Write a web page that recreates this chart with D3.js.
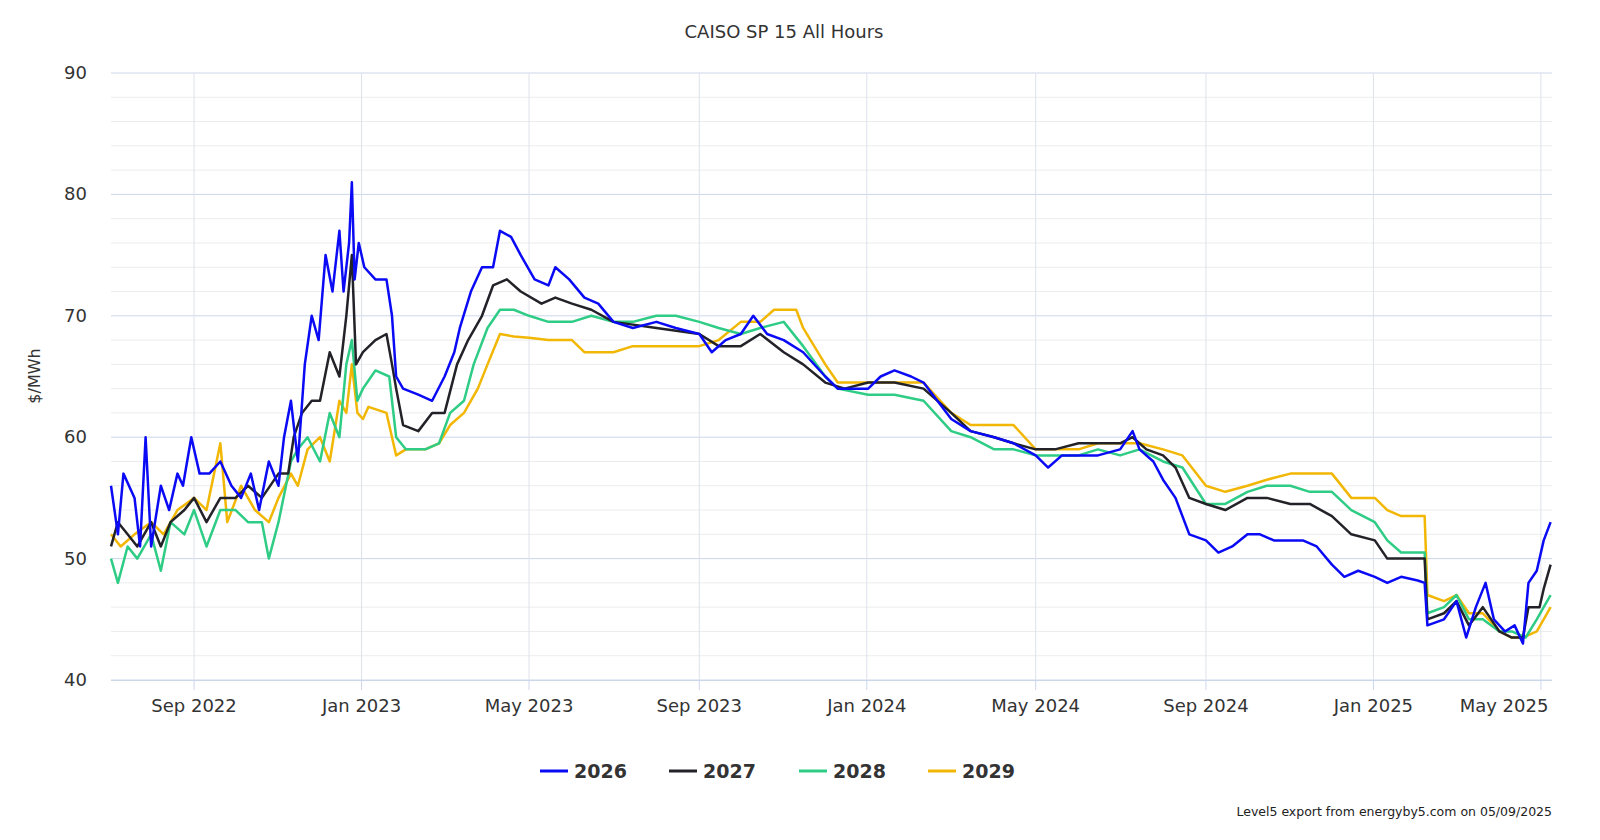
<!DOCTYPE html>
<html><head><meta charset="utf-8">
<script src="https://cdn.jsdelivr.net/npm/d3@7"></script>
<style>body{margin:0;background:#fff;font-family:"DejaVu Sans",sans-serif}</style>
</head><body><svg id="c" width="1600" height="840"></svg>
<script>
const title = "CAISO SP 15 All Hours";
const yLabel = "$/MWh";
const xTickDates = ["2022-09-01","2022-12-31","2023-05-01","2023-09-01","2023-12-31","2024-05-01","2024-09-01","2024-12-31","2025-05-01"];
const xTickLabels = ["Sep 2022","Jan 2023","May 2023","Sep 2023","Jan 2024","May 2024","Sep 2024","Jan 2025","May 2025"];
const yTicks = [40,50,60,70,80,90];
const seriesNames = ["2026","2027","2028","2029"];
const seriesColors = ["#0a0af5","#222228","#2ecc85","#f2b705"];

const s2026 = [["2022-07-03",56],["2022-07-08",52],["2022-07-12",57],["2022-07-20",55],["2022-07-24",51],["2022-07-28",60],["2022-08-01",51],["2022-08-08",56],["2022-08-14",54],["2022-08-20",57],["2022-08-24",56],["2022-08-30",60],["2022-09-05",57],["2022-09-12",57],["2022-09-20",58],["2022-09-28",56],["2022-10-05",55],["2022-10-12",57],["2022-10-18",54],["2022-10-25",58],["2022-11-01",56],["2022-11-05",60],["2022-11-10",63],["2022-11-15",58],["2022-11-20",66],["2022-11-25",70],["2022-11-30",68],["2022-12-05",75],["2022-12-10",72],["2022-12-15",77],["2022-12-18",72],["2022-12-22",76],["2022-12-24",81],["2022-12-26",73],["2022-12-29",76],["2023-01-02",74],["2023-01-10",73],["2023-01-18",73],["2023-01-22",70],["2023-01-25",65],["2023-01-30",64],["2023-02-10",63.5],["2023-02-20",63],["2023-03-01",65],["2023-03-08",67],["2023-03-12",69],["2023-03-20",72],["2023-03-28",74],["2023-04-05",74],["2023-04-10",77],["2023-04-18",76.5],["2023-04-25",75],["2023-05-05",73],["2023-05-15",72.5],["2023-05-20",74],["2023-05-30",73],["2023-06-10",71.5],["2023-06-20",71],["2023-07-01",69.5],["2023-07-15",69],["2023-08-01",69.5],["2023-08-15",69],["2023-09-01",68.5],["2023-09-10",67],["2023-09-20",68],["2023-10-01",68.5],["2023-10-10",70],["2023-10-20",68.5],["2023-11-01",68],["2023-11-15",67],["2023-12-01",65],["2023-12-10",64],["2023-12-20",64],["2024-01-01",64],["2024-01-10",65],["2024-01-20",65.5],["2024-02-01",65],["2024-02-10",64.5],["2024-02-20",63],["2024-03-01",61.5],["2024-03-15",60.5],["2024-04-01",60],["2024-04-15",59.5],["2024-05-01",58.5],["2024-05-10",57.5],["2024-05-20",58.5],["2024-06-01",58.5],["2024-06-15",58.5],["2024-07-01",59],["2024-07-10",60.5],["2024-07-15",59],["2024-07-25",58],["2024-08-01",56.5],["2024-08-10",55],["2024-08-20",52],["2024-09-01",51.5],["2024-09-10",50.5],["2024-09-20",51],["2024-10-01",52],["2024-10-10",52],["2024-10-20",51.5],["2024-11-01",51.5],["2024-11-10",51.5],["2024-11-20",51],["2024-12-01",49.5],["2024-12-10",48.5],["2024-12-20",49],["2025-01-01",48.5],["2025-01-10",48],["2025-01-20",48.5],["2025-02-01",48.2],["2025-02-06",48],["2025-02-08",44.5],["2025-02-20",45],["2025-03-01",46.5],["2025-03-08",43.5],["2025-03-15",46],["2025-03-22",48],["2025-03-28",45],["2025-04-05",44],["2025-04-12",44.5],["2025-04-18",43],["2025-04-22",48],["2025-04-28",49],["2025-05-03",51.5],["2025-05-08",53]];
const s2027 = [["2022-07-03",51],["2022-07-08",53],["2022-07-15",52],["2022-07-22",51],["2022-08-01",53],["2022-08-08",51],["2022-08-15",53],["2022-08-25",54],["2022-09-01",55],["2022-09-10",53],["2022-09-20",55],["2022-10-01",55],["2022-10-10",56],["2022-10-20",55],["2022-11-01",57],["2022-11-08",57],["2022-11-12",60],["2022-11-18",62],["2022-11-25",63],["2022-12-01",63],["2022-12-08",67],["2022-12-15",65],["2022-12-20",70],["2022-12-24",75],["2022-12-27",66],["2023-01-01",67],["2023-01-10",68],["2023-01-18",68.5],["2023-01-22",66],["2023-01-25",64],["2023-01-30",61],["2023-02-10",60.5],["2023-02-20",62],["2023-03-01",62],["2023-03-10",66],["2023-03-18",68],["2023-03-28",70],["2023-04-05",72.5],["2023-04-15",73],["2023-04-25",72],["2023-05-10",71],["2023-05-20",71.5],["2023-06-01",71],["2023-06-15",70.5],["2023-07-01",69.5],["2023-08-01",69],["2023-09-01",68.5],["2023-09-15",67.5],["2023-10-01",67.5],["2023-10-15",68.5],["2023-11-01",67],["2023-11-15",66],["2023-12-01",64.5],["2023-12-15",64],["2024-01-01",64.5],["2024-01-20",64.5],["2024-02-10",64],["2024-03-01",62],["2024-03-15",60.5],["2024-04-01",60],["2024-04-15",59.5],["2024-05-01",59],["2024-05-15",59],["2024-06-01",59.5],["2024-06-15",59.5],["2024-07-01",59.5],["2024-07-10",60],["2024-07-20",59],["2024-08-01",58.5],["2024-08-10",57.5],["2024-08-20",55],["2024-09-01",54.5],["2024-09-15",54],["2024-10-01",55],["2024-10-15",55],["2024-11-01",54.5],["2024-11-15",54.5],["2024-12-01",53.5],["2024-12-15",52],["2025-01-01",51.5],["2025-01-10",50],["2025-01-20",50],["2025-02-06",50],["2025-02-08",45],["2025-02-20",45.5],["2025-03-01",46.5],["2025-03-10",44.5],["2025-03-20",46],["2025-04-01",44],["2025-04-10",43.5],["2025-04-18",43.5],["2025-04-22",46],["2025-04-30",46],["2025-05-03",47.5],["2025-05-08",49.5]];
const s2028 = [["2022-07-03",50],["2022-07-08",48],["2022-07-15",51],["2022-07-22",50],["2022-08-01",52],["2022-08-08",49],["2022-08-15",53],["2022-08-25",52],["2022-09-01",54],["2022-09-10",51],["2022-09-20",54],["2022-10-01",54],["2022-10-10",53],["2022-10-20",53],["2022-10-25",50],["2022-11-01",53],["2022-11-10",58],["2022-11-15",59],["2022-11-22",60],["2022-12-01",58],["2022-12-08",62],["2022-12-15",60],["2022-12-20",66],["2022-12-24",68],["2022-12-28",63],["2023-01-01",64],["2023-01-10",65.5],["2023-01-20",65],["2023-01-25",60],["2023-02-01",59],["2023-02-15",59],["2023-02-25",59.5],["2023-03-05",62],["2023-03-15",63],["2023-03-22",66],["2023-04-01",69],["2023-04-10",70.5],["2023-04-20",70.5],["2023-05-01",70],["2023-05-15",69.5],["2023-06-01",69.5],["2023-06-15",70],["2023-07-01",69.5],["2023-07-15",69.5],["2023-08-01",70],["2023-08-15",70],["2023-09-01",69.5],["2023-09-15",69],["2023-10-01",68.5],["2023-10-15",69],["2023-11-01",69.5],["2023-11-15",67.5],["2023-12-01",65],["2023-12-10",64],["2024-01-01",63.5],["2024-01-20",63.5],["2024-02-10",63],["2024-03-01",60.5],["2024-03-15",60],["2024-04-01",59],["2024-04-15",59],["2024-05-01",58.5],["2024-05-15",58.5],["2024-06-01",58.5],["2024-06-15",59],["2024-07-01",58.5],["2024-07-15",59],["2024-08-01",58],["2024-08-15",57.5],["2024-09-01",54.5],["2024-09-15",54.5],["2024-10-01",55.5],["2024-10-15",56],["2024-11-01",56],["2024-11-15",55.5],["2024-12-01",55.5],["2024-12-15",54],["2025-01-01",53],["2025-01-10",51.5],["2025-01-20",50.5],["2025-02-06",50.5],["2025-02-08",45.5],["2025-02-20",46],["2025-03-01",47],["2025-03-10",45],["2025-03-20",45],["2025-04-01",44],["2025-04-10",44],["2025-04-20",43.5],["2025-04-28",45],["2025-05-03",46],["2025-05-08",47]];
const s2029 = [["2022-07-03",52],["2022-07-10",51],["2022-07-20",52],["2022-08-01",53],["2022-08-10",52],["2022-08-20",54],["2022-09-01",55],["2022-09-10",54],["2022-09-20",59.5],["2022-09-25",53],["2022-10-05",56],["2022-10-15",54],["2022-10-25",53],["2022-11-01",55],["2022-11-10",57],["2022-11-15",56],["2022-11-22",59],["2022-12-01",60],["2022-12-08",58],["2022-12-15",63],["2022-12-20",62],["2022-12-24",66],["2022-12-28",62],["2023-01-01",61.5],["2023-01-05",62.5],["2023-01-18",62],["2023-01-25",58.5],["2023-02-01",59],["2023-02-15",59],["2023-02-25",59.5],["2023-03-05",61],["2023-03-15",62],["2023-03-25",64],["2023-04-01",66],["2023-04-10",68.5],["2023-04-20",68.3],["2023-05-01",68.2],["2023-05-15",68],["2023-06-01",68],["2023-06-10",67],["2023-07-01",67],["2023-07-15",67.5],["2023-08-01",67.5],["2023-08-15",67.5],["2023-09-01",67.5],["2023-09-15",68],["2023-10-01",69.5],["2023-10-15",69.5],["2023-10-25",70.5],["2023-11-10",70.5],["2023-11-15",69],["2023-12-01",66],["2023-12-10",64.5],["2024-01-01",64.5],["2024-01-20",64.5],["2024-02-10",64.5],["2024-03-01",62],["2024-03-15",61],["2024-04-01",61],["2024-04-15",61],["2024-05-01",59],["2024-05-15",59],["2024-06-01",59],["2024-06-15",59.5],["2024-07-01",59.5],["2024-07-15",59.5],["2024-08-01",59],["2024-08-15",58.5],["2024-09-01",56],["2024-09-15",55.5],["2024-10-01",56],["2024-10-15",56.5],["2024-11-01",57],["2024-11-15",57],["2024-12-01",57],["2024-12-15",55],["2025-01-01",55],["2025-01-10",54],["2025-01-20",53.5],["2025-02-06",53.5],["2025-02-08",47],["2025-02-20",46.5],["2025-03-01",47],["2025-03-10",45.5],["2025-03-20",45.5],["2025-04-01",44],["2025-04-10",43.5],["2025-04-18",43.5],["2025-04-28",44],["2025-05-03",45],["2025-05-08",46]];
const seriesData = [s2026,s2027,s2028,s2029];

const svg = d3.select("#c");
const parse = d3.timeParse("%Y-%m-%d");
const L=111,R=1552,T=73,B=680;
const x = d3.scaleTime().domain([parse("2022-07-03"),parse("2025-05-09")]).range([L,R]);
const y = d3.scaleLinear().domain([40,90]).range([B,T]);

// minor grid
svg.append("g").selectAll("line").data(d3.range(40,91,2)).join("line")
  .attr("x1",L).attr("x2",R).attr("y1",d=>y(d)).attr("y2",d=>y(d))
  .attr("stroke",d=>d%10===0?"#ccd6eb":"#ececec").attr("stroke-width",1);
// vertical grid
svg.append("g").selectAll("line").data(xTickDates).join("line")
  .attr("x1",d=>x(parse(d))).attr("x2",d=>x(parse(d))).attr("y1",T).attr("y2",B)
  .attr("stroke","#dde2ea");
// x axis
svg.append("line").attr("x1",L).attr("x2",R).attr("y1",B+0.5).attr("y2",B+0.5).attr("stroke","#ccd6eb");
svg.append("g").selectAll("line").data(xTickDates).join("line")
  .attr("x1",d=>x(parse(d))).attr("x2",d=>x(parse(d))).attr("y1",B).attr("y2",B+10).attr("stroke","#ccd6eb");
svg.append("g").selectAll("text").data(xTickDates).join("text")
  .attr("x",(d,i)=>Math.min(x(parse(d)),1504)).attr("y",B+32).attr("text-anchor","middle")
  .attr("font-size",18).attr("fill","#333").text((d,i)=>xTickLabels[i]);
// y labels
svg.append("g").selectAll("text").data(yTicks).join("text")
  .attr("x",87).attr("y",d=>y(d)+6).attr("text-anchor","end")
  .attr("font-size",18).attr("fill","#333").text(d=>d);
svg.append("text").attr("transform","translate(40,376) rotate(-90)").attr("text-anchor","middle")
  .attr("font-size",16).attr("fill","#333").text(yLabel);
svg.append("text").attr("x",784).attr("y",38).attr("text-anchor","middle").attr("font-size",18).attr("fill","#333").text(title);

const line = d3.line().x(d=>x(parse(d[0]))).y(d=>y(d[1]));
[3,2,1,0].forEach(i=>{
  svg.append("path").attr("d",line(seriesData[i])).attr("fill","none")
    .attr("stroke",seriesColors[i]).attr("stroke-width",2.5).attr("stroke-linejoin","round");
});
// legend
const lx=[540,669,799,928];
seriesNames.forEach((n,i)=>{
  svg.append("line").attr("x1",lx[i]).attr("x2",lx[i]+28).attr("y1",771).attr("y2",771).attr("stroke",seriesColors[i]).attr("stroke-width",3);
  svg.append("text").attr("x",lx[i]+34).attr("y",778).attr("font-size",19).attr("font-weight","bold").attr("fill","#333").text(n);
});
svg.append("text").attr("x",1552).attr("y",816).attr("text-anchor","end").attr("font-size",12.5).attr("fill","#222").text("Level5 export from energyby5.com on 05/09/2025");
</script></body></html>
